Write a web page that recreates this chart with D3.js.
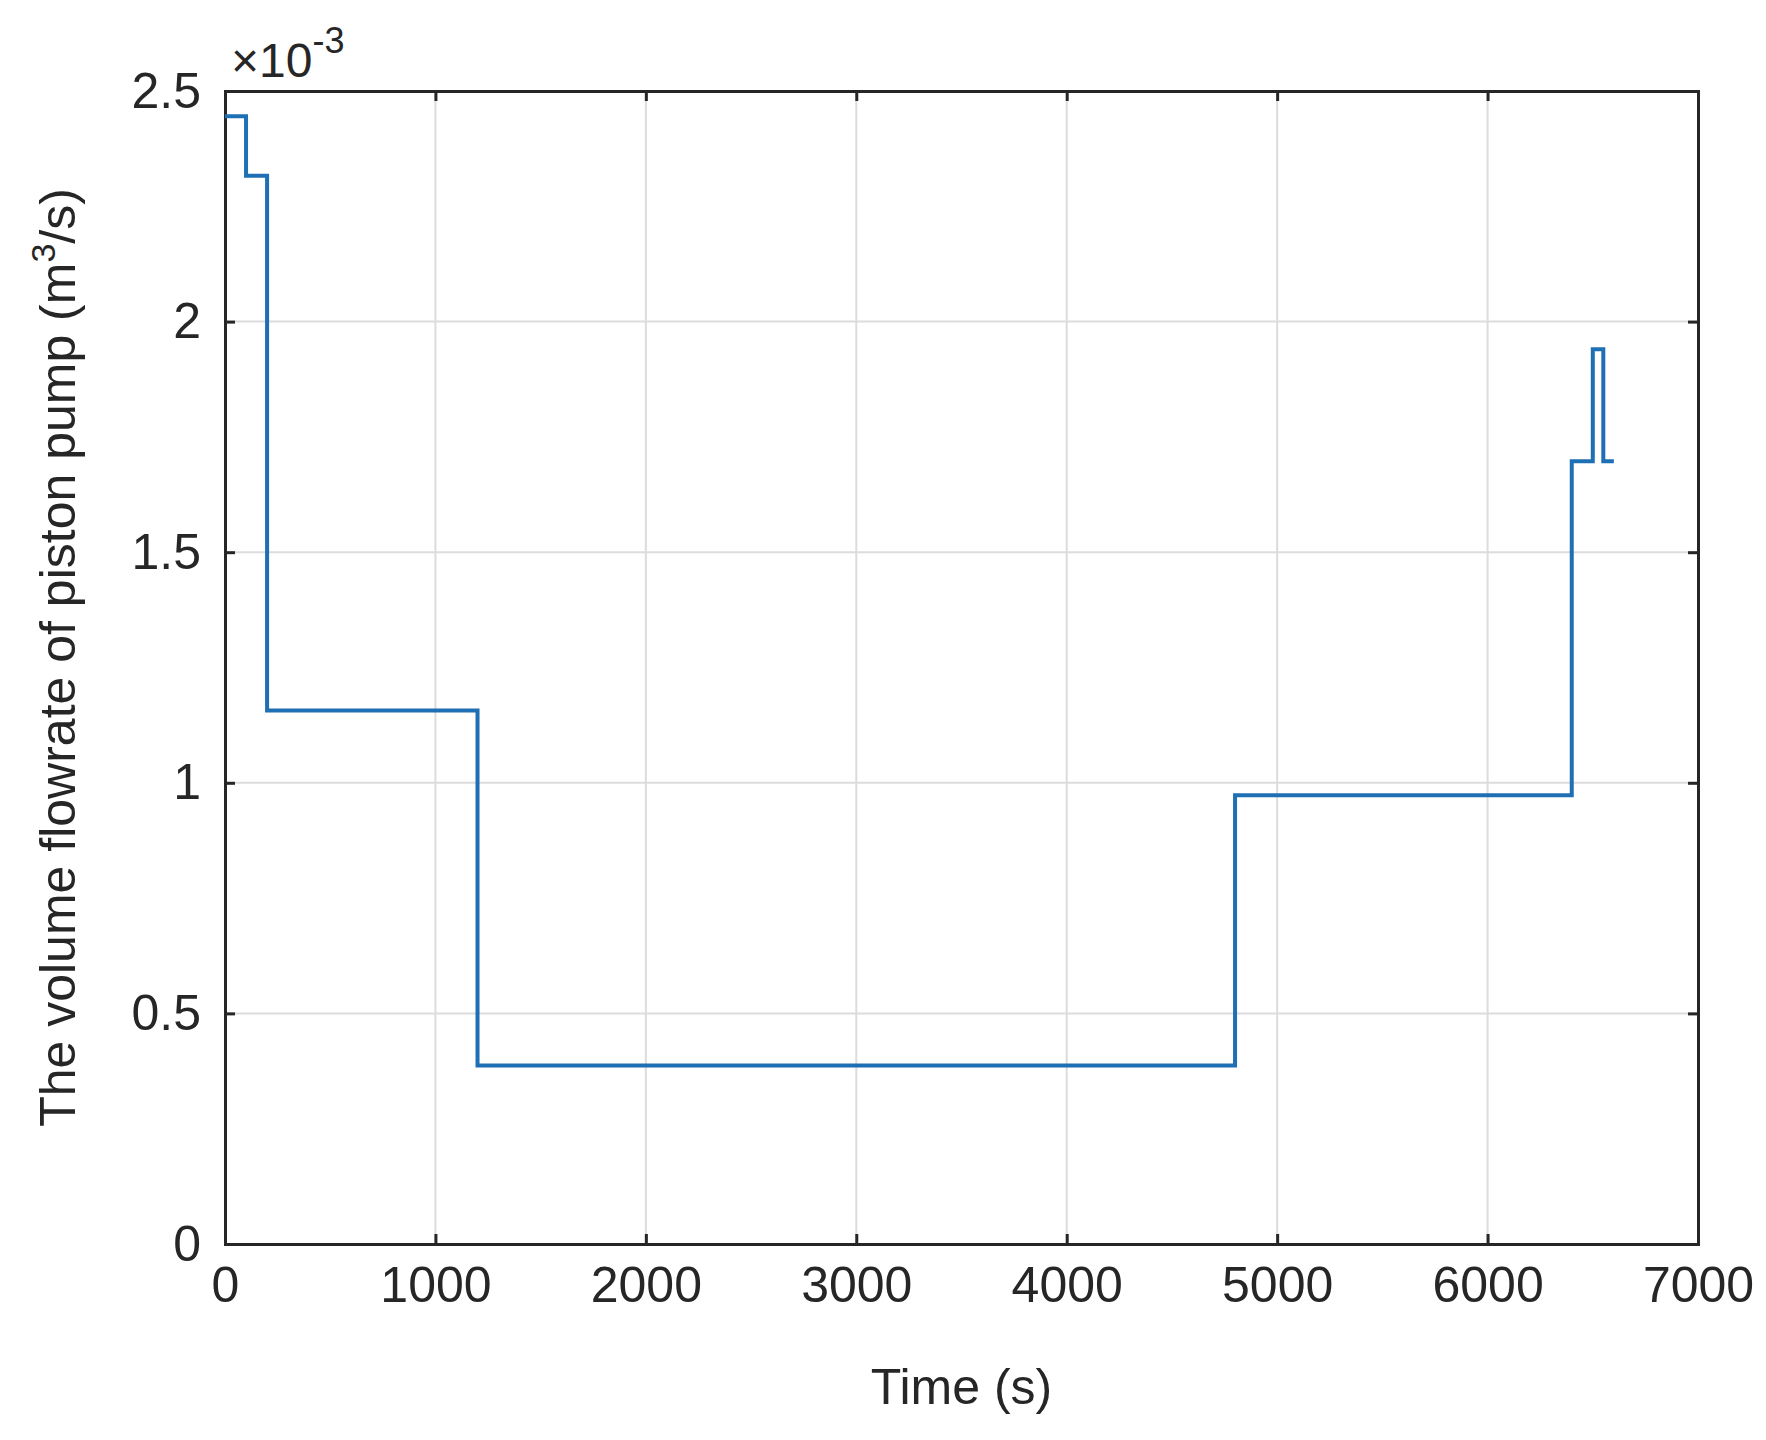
<!DOCTYPE html>
<html lang="en">
<head>
<meta charset="UTF-8">
<script src="https://d3js.org/d3.v7.min.js"></script>
<style>
  body { margin: 0; background: #fff; }
  text { font-family: "Liberation Sans", Arial, sans-serif; fill: #262626; }
</style>
</head>
<body>
<svg width="1766" height="1440"></svg>
<script>
// step data: time (s) and flowrate (x1e-3 m^3/s)
const times = [0, 100, 100, 200, 200, 1200, 1200, 4800, 4800, 6400, 6400, 6500, 6500, 6550, 6550, 6600];
const flows = [2.445, 2.445, 2.316, 2.316, 1.157, 1.157, 0.387, 0.387, 0.973, 0.973, 1.697, 1.697, 1.94, 1.94, 1.697, 1.697];
const xTicks = [0, 1000, 2000, 3000, 4000, 5000, 6000, 7000];
const yTicks = [0, 0.5, 1, 1.5, 2, 2.5];

const margin = { top: 91, right: 68, bottom: 196, left: 225 };
const width = 1766 - margin.left - margin.right,
      height = 1440 - margin.top - margin.bottom;

const svg = d3.select("svg").append("g")
  .attr("transform", `translate(${margin.left},${margin.top})`);

const x = d3.scaleLinear().domain([0, 7000]).range([0, width]);
const y = d3.scaleLinear().domain([0, 2.5]).range([height, 0]);

// grid
svg.selectAll(".gx").data(xTicks).enter().append("line")
  .attr("x1", d => x(d)).attr("x2", d => x(d)).attr("y1", 0).attr("y2", height)
  .attr("stroke", "#dcdcdc").attr("stroke-width", 2);
svg.selectAll(".gy").data(yTicks).enter().append("line")
  .attr("y1", d => y(d)).attr("y2", d => y(d)).attr("x1", 0).attr("x2", width)
  .attr("stroke", "#dcdcdc").attr("stroke-width", 2);

// axes
const fmtY = d => d === 0 ? "0" : String(d);
svg.append("g").attr("transform", `translate(0,${height})`)
  .call(d3.axisBottom(x).tickValues(xTicks).tickSize(-10).tickPadding(22).tickFormat(d3.format("d")));
svg.append("g").call(d3.axisTop(x).tickValues(xTicks).tickSize(-10).tickFormat(""));
svg.append("g")
  .call(d3.axisLeft(y).tickValues(yTicks).tickSize(-10).tickPadding(24).tickFormat(fmtY));
svg.append("g").attr("transform", `translate(${width},0)`)
  .call(d3.axisRight(y).tickValues(yTicks).tickSize(-10).tickFormat(""));
svg.selectAll(".domain").attr("stroke", "#262626").attr("stroke-width", 3);
svg.selectAll(".tick line").attr("stroke", "#262626").attr("stroke-width", 3);
svg.selectAll(".tick text").style("font-size", "50px").style("fill", "#262626");

// line
const line = d3.line().x((d, i) => x(times[i])).y((d, i) => y(flows[i]));
svg.append("path").datum(flows).attr("d", line)
  .attr("fill", "none").attr("stroke", "#1f6fb4").attr("stroke-width", 4);

// labels
svg.append("text").attr("x", width / 2).attr("y", height + 160)
  .attr("text-anchor", "middle").style("font-size", "50px").text("Time (s)");
const yl = svg.append("text")
  .attr("transform", `translate(-150,${height / 2 - 10}) rotate(-90)`)
  .attr("text-anchor", "middle").style("font-size", "50px");
yl.append("tspan").text("The volume flowrate of piston pump (m");
yl.append("tspan").attr("dy", -20).style("font-size", "34px").text("3");
yl.append("tspan").attr("dy", 20).text("/s)");

const ex = svg.append("text").attr("x", 6).attr("y", -14).style("font-size", "48px");
ex.append("tspan").text("\u00d710");
ex.append("tspan").attr("dy", -24).style("font-size", "36px").text("-3");
</script>
</body>
</html>
